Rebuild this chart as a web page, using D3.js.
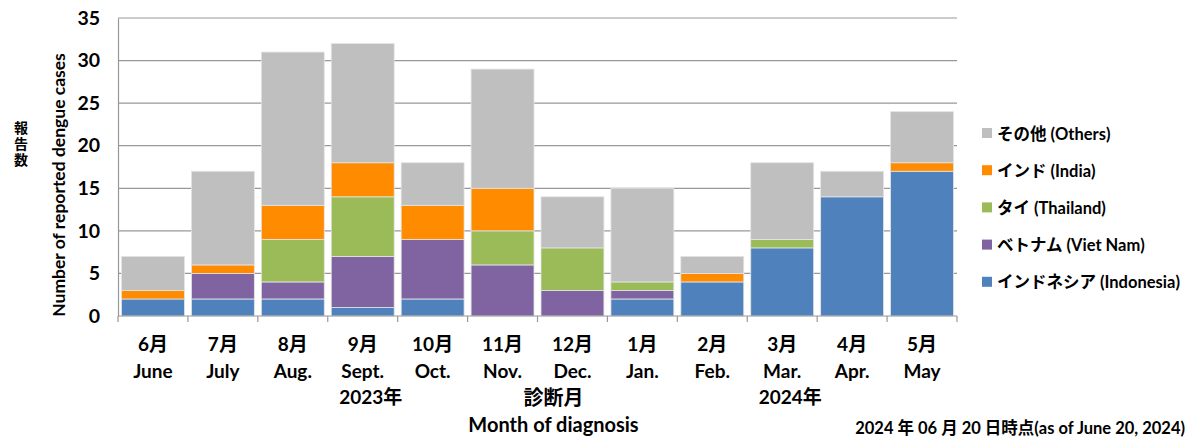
<!DOCTYPE html>
<html>
<head>
<meta charset="utf-8">
<script src="https://cdn.jsdelivr.net/npm/d3@7"></script>
<style>
  body { margin: 0; background: #fff; }
  svg text { font-family: Lato, "Noto Sans CJK JP", sans-serif; font-weight: bold; fill: #000; }
</style>
</head>
<body>
<div id="chart"></div>
<script>
// Data
const monthsJa = ["6月", "7月", "8月", "9月", "10月", "11月", "12月", "1月", "2月", "3月", "4月", "5月"];
const monthsEn = ["June", "July", "Aug.", "Sept.", "Oct.", "Nov.", "Dec.", "Jan.", "Feb.", "Mar.", "Apr.", "May"];
const indonesia = [2, 2, 2, 1, 2, 0, 0, 2, 4, 8, 14, 17];
const vietnam   = [0, 3, 2, 6, 7, 6, 3, 1, 0, 0, 0, 0];
const thailand  = [0, 0, 5, 7, 0, 4, 5, 1, 0, 1, 0, 0];
const india     = [1, 1, 4, 4, 4, 5, 0, 0, 1, 0, 0, 1];
const others    = [4, 11, 18, 14, 5, 14, 6, 11, 2, 9, 3, 6];
const yTicks = [0, 5, 10, 15, 20, 25, 30, 35];

const seriesKeys = ["indonesia", "vietnam", "thailand", "india", "others"];
const seriesLabels = {
    others: "その他 (Others)",
    india: "インド (India)",
    thailand: "タイ (Thailand)",
    vietnam: "ベトナム (Viet Nam)",
    indonesia: "インドネシア (Indonesia)"
};
const colors = {
    indonesia: "#4F81BD",
    vietnam: "#8064A2",
    thailand: "#9BBB59",
    india: "#FF8C00",
    others: "#BFBFBF"
};

const table = monthsEn.map((m, i) => ({
    month: m,
    indonesia: indonesia[i],
    vietnam: vietnam[i],
    thailand: thailand[i],
    india: india[i],
    others: others[i]
}));

const W = 1192, H = 439;
const margin = { top: 18, left: 118, right: 235, bottom: 123 };
const width = W - margin.left - margin.right;
const height = H - margin.top - margin.bottom;

const svg = d3.select("#chart").append("svg")
    .attr("width", W)
    .attr("height", H);

const g = svg.append("g")
    .attr("transform", `translate(${margin.left},${margin.top})`);

// Scales
const x = d3.scaleBand().domain(monthsEn).range([0, width]).paddingInner(0.1).paddingOuter(0.05);
const xTick = d3.scaleBand().domain(monthsEn).range([0, width]).padding(0);
const y = d3.scaleLinear().domain([0, 35]).range([height, 0]);

// Gridlines
g.append("g")
    .selectAll("line")
    .data(yTicks.filter(d => d > 0))
    .enter().append("line")
    .attr("x1", 0).attr("x2", width)
    .attr("y1", d => y(d)).attr("y2", d => y(d))
    .attr("stroke", "#989898")
    .attr("stroke-width", 1.2);

// Stacked bars
const stack = d3.stack().keys(seriesKeys);
const layers = stack(table);

g.append("g")
    .selectAll("g")
    .data(layers)
    .enter().append("g")
    .attr("fill", d => colors[d.key])
    .selectAll("rect")
    .data(d => d.filter(p => p[1] - p[0] > 0))
    .enter().append("rect")
    .attr("x", d => x(d.data.month))
    .attr("y", d => y(d[1]))
    .attr("width", x.bandwidth())
    .attr("height", d => y(d[0]) - y(d[1]))
    .attr("stroke", "#e4e4e4")
    .attr("stroke-width", 0.8);

// Y axis
const yAxis = g.append("g")
    .call(d3.axisLeft(y).tickValues(yTicks).tickSize(0).tickPadding(18));
yAxis.select(".domain").attr("stroke", "#989898").attr("stroke-width", 1.2);
yAxis.selectAll("text").style("font-size", "19.5px");

// X axis (ticks between categories)
const xAxis = g.append("g").attr("transform", `translate(0,${height})`);
xAxis.append("line")
    .attr("x1", 0).attr("x2", width)
    .attr("stroke", "#989898").attr("stroke-width", 1.2);
xAxis.selectAll(".tk")
    .data(monthsEn.concat(["end"]))
    .enter().append("line")
    .attr("class", "tk")
    .attr("x1", (d, i) => i < monthsEn.length ? xTick(d) : width)
    .attr("x2", (d, i) => i < monthsEn.length ? xTick(d) : width)
    .attr("y1", 0).attr("y2", 6)
    .attr("stroke", "#989898").attr("stroke-width", 1.2);

// Month labels
xAxis.selectAll(".ja")
    .data(monthsJa)
    .enter().append("text")
    .attr("x", (d, i) => xTick(monthsEn[i]) + xTick.bandwidth() / 2)
    .attr("y", 35)
    .attr("text-anchor", "middle")
    .style("font-size", "19px")
    .text(d => d);
xAxis.selectAll(".en")
    .data(monthsEn)
    .enter().append("text")
    .attr("x", d => xTick(d) + xTick.bandwidth() / 2)
    .attr("y", 62)
    .attr("text-anchor", "middle")
    .style("font-size", "19px")
    .text(d => d);

// Year labels
const yearLabel = (txt, idx) => xAxis.append("text")
    .attr("x", xTick(monthsEn[idx]) + xTick.bandwidth() / 2 + 8)
    .attr("y", 88)
    .attr("text-anchor", "middle")
    .style("font-size", "19px")
    .text(txt);
yearLabel("2023年", 3);
yearLabel("2024年", 9);

// X titles
xAxis.append("text")
    .attr("x", width / 2 + 16)
    .attr("y", 89)
    .attr("text-anchor", "middle")
    .style("font-size", "20px")
    .text("診断月");
xAxis.append("text")
    .attr("x", width / 2 + 16)
    .attr("y", 116)
    .attr("text-anchor", "middle")
    .style("font-size", "20px")
    .text("Month of diagnosis");

// Y titles
svg.append("text")
    .attr("transform", `translate(65,${margin.top + height / 2 + 18}) rotate(-90)`)
    .attr("text-anchor", "middle")
    .style("font-size", "17.5px")
    .text("Number of reported dengue cases");

svg.append("g")
    .selectAll("text")
    .data(["報", "告", "数"])
    .enter().append("text")
    .attr("x", 21)
    .attr("y", (d, i) => 133 + i * 16)
    .attr("text-anchor", "middle")
    .style("font-size", "14px")
    .text(d => d);

// Legend
const legendKeys = ["others", "india", "thailand", "vietnam", "indonesia"];
const legend = svg.append("g").attr("transform", "translate(982,0)");
const lg = legend.selectAll("g")
    .data(legendKeys)
    .enter().append("g")
    .attr("transform", (d, i) => `translate(0,${133 + i * 37.2})`);
lg.append("rect")
    .attr("x", 0).attr("y", -5)
    .attr("width", 10).attr("height", 10)
    .attr("fill", d => colors[d]);
lg.append("text")
    .attr("x", 15)
    .attr("y", 6.5)
    .style("font-size", "16.5px")
    .text(d => seriesLabels[d]);

// Footer
svg.append("text")
    .attr("x", 1185)
    .attr("y", 434)
    .attr("text-anchor", "end")
    .style("font-size", "16.5px")
    .text("2024 年 06 月 20 日時点(as of June 20, 2024)");
</script>
</body>
</html>
